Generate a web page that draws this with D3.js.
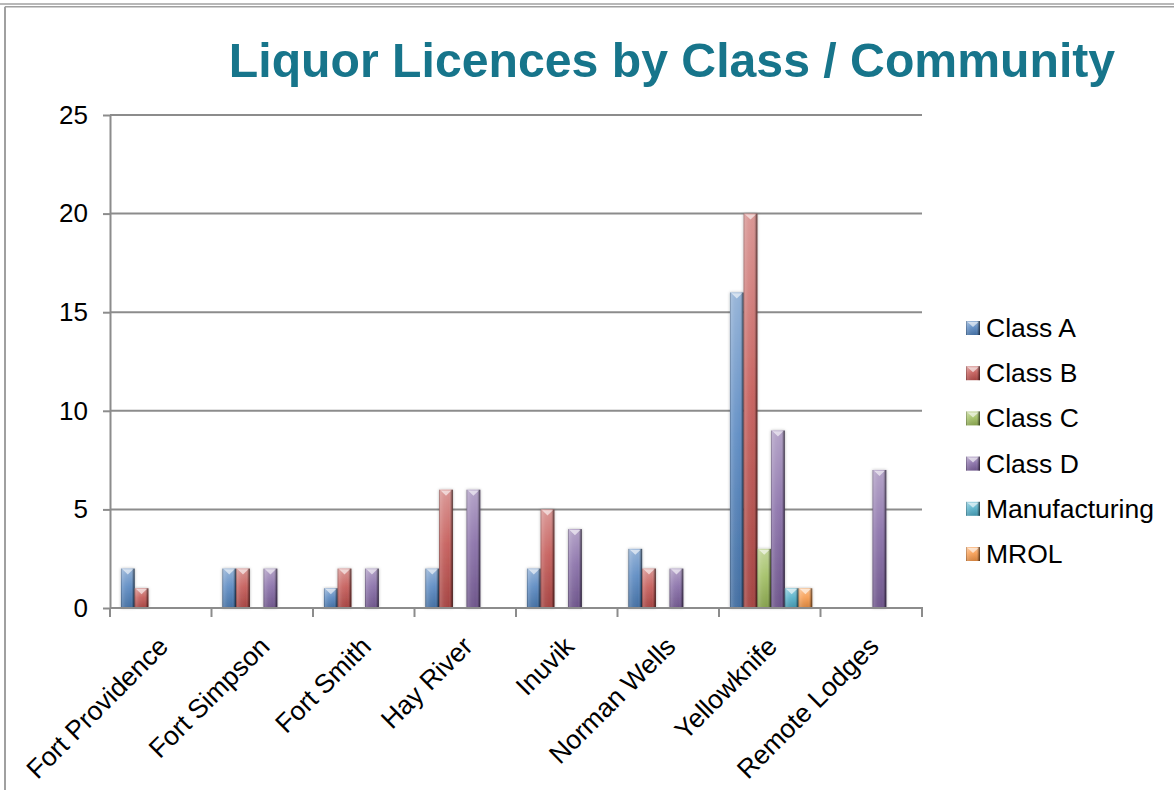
<!DOCTYPE html>
<html>
<head>
<meta charset="utf-8">
<script src="https://cdn.jsdelivr.net/npm/d3@7"></script>
<style>
  html, body { margin: 0; padding: 0; background: #ffffff; }
  svg { display: block; font-family: "Liberation Sans", Arial, sans-serif; }
</style>
</head>
<body>
<svg id="chart" width="1174" height="790"></svg>
<script>
// Licence counts per community, one array per licence class (null = no licences)
const categories = ["Fort Providence", "Fort Simpson", "Fort Smith", "Hay River",
                    "Inuvik", "Norman Wells", "Yellowknife", "Remote Lodges"];
const seriesNames = ["Class A", "Class B", "Class C", "Class D", "Manufacturing", "MROL"];
const classA        = [2, 2, 1, 2, 2, 3, 16, null];
const classB        = [1, 2, 2, 6, 5, 2, 20, null];
const classC        = [null, null, null, null, null, null, 3, null];
const classD        = [null, 2, 2, 6, 4, 2, 9, 7];
const manufacturing = [null, null, null, null, null, null, 1, null];
const mrol          = [null, null, null, null, null, null, 1, null];
const seriesColors  = ["#4F81BD", "#C0504D", "#9BBB59", "#8064A2", "#4BACC6", "#F79646"];
const yTicks        = [0, 5, 10, 15, 20, 25];
const title         = "Liquor Licences by Class / Community";

const seriesValues = [classA, classB, classC, classD, manufacturing, mrol];

const svg = d3.select("#chart");
const W = 1174, H = 790;
const plot = { left: 110, right: 922, top: 115, bottom: 608 };

// outer frame
const frame = svg.append("g").attr("stroke", "#a0a0a0").attr("fill", "none");
frame.append("line").attr("x1", 0).attr("x2", W).attr("y1", 4).attr("y2", 4).attr("stroke-width", 1.5);
frame.append("line").attr("x1", 5).attr("x2", W).attr("y1", 6.8).attr("y2", 6.8).attr("stroke-width", 1.5);
frame.append("line").attr("x1", 5).attr("x2", 5).attr("y1", 6.8).attr("y2", H).attr("stroke-width", 2);

// scales
const x0 = d3.scaleBand().domain(categories).range([plot.left, plot.right]).paddingInner(0).paddingOuter(0);
const x1 = d3.scaleBand().domain(seriesNames).range([0, x0.bandwidth()])
  .paddingInner(0).paddingOuter(0.7).align(0.57);
const y = d3.scaleLinear().domain([0, 25]).range([plot.bottom, plot.top]);

// gradients: vertical body shade per series, plus a shared horizontal bevel overlay
const defs = svg.append("defs");
seriesNames.forEach((name, i) => {
  const base = seriesColors[i];
  const g = defs.append("linearGradient").attr("id", "grad" + i)
    .attr("x1", 0).attr("y1", 0).attr("x2", 0).attr("y2", 1);
  g.append("stop").attr("offset", "0%").attr("stop-color", d3.interpolateRgb(base, "#ffffff")(0.4));
  g.append("stop").attr("offset", "45%").attr("stop-color", d3.interpolateRgb(base, "#ffffff")(0.12));
  g.append("stop").attr("offset", "100%").attr("stop-color", d3.rgb(base).darker(0.45).formatHex());
});
const bevel = defs.append("linearGradient").attr("id", "bevel")
  .attr("x1", 0).attr("y1", 0).attr("x2", 1).attr("y2", 0);
[[0, "#000", 0.35], [0.1, "#fff", 0.18], [0.35, "#fff", 0.06], [0.7, "#fff", 0],
 [0.86, "#000", 0.18], [1, "#000", 0.65]].forEach(([o, c, a]) =>
  bevel.append("stop").attr("offset", o).attr("stop-color", c).attr("stop-opacity", a));
const shadow = defs.append("filter").attr("id", "shadow")
  .attr("x", "-50%").attr("y", "-10%").attr("width", "200%").attr("height", "120%");
shadow.append("feDropShadow").attr("dx", 0).attr("dy", 0).attr("stdDeviation", 1.5)
  .attr("flood-color", "#000").attr("flood-opacity", 0.3);

// gridlines
svg.append("g")
  .selectAll("line").data(yTicks.filter(t => t > 0)).join("line")
  .attr("x1", plot.left).attr("x2", plot.right)
  .attr("y1", d => y(d)).attr("y2", d => y(d))
  .attr("stroke", "#8c8c8c").attr("stroke-width", 2);

// y axis
const yAxis = svg.append("g").attr("transform", `translate(${plot.left},0)`)
  .call(d3.axisLeft(y).tickValues(yTicks).tickSize(7).tickPadding(15).tickSizeOuter(0));
yAxis.select(".domain").attr("stroke", "#8c8c8c").attr("stroke-width", 2);
yAxis.selectAll(".tick line").attr("stroke", "#8c8c8c").attr("stroke-width", 2);
yAxis.selectAll(".tick text").attr("font-size", 26).attr("fill", "#000")
  .attr("font-family", "Liberation Sans, Arial, sans-serif");

// bars
const barGroups = svg.append("g").selectAll("g").data(categories).join("g")
  .attr("transform", d => `translate(${x0(d)},0)`);
const bars = barGroups.selectAll("g.bar")
  .data((c, ci) => seriesNames.map((s, si) => ({ s, si, v: seriesValues[si][ci] }))
    .filter(d => d.v != null && d.v > 0))
  .join("g").attr("class", "bar");
const bw = x1.bandwidth();
bars.append("rect")
  .attr("x", d => x1(d.s)).attr("y", d => y(d.v))
  .attr("width", bw).attr("height", d => y(0) - y(d.v))
  .attr("fill", d => `url(#grad${d.si})`)
  .attr("filter", "url(#shadow)");
bars.append("rect")
  .attr("x", d => x1(d.s)).attr("y", d => y(d.v))
  .attr("width", bw).attr("height", d => y(0) - y(d.v))
  .attr("fill", "url(#bevel)");
bars.append("path")
  .attr("d", d => {
    const xl = x1(d.s) + 1.5, xr = x1(d.s) + bw - 1.5, yt = y(d.v) + 0.8;
    return `M${xl},${yt}L${xr},${yt}L${(xl + xr) / 2},${yt + bw * 0.38}Z`;
  })
  .attr("fill", "#ffffff").attr("fill-opacity", 0.6);

// x axis
const xAxis = svg.append("g").attr("transform", `translate(0,${plot.bottom})`);
xAxis.append("line").attr("x1", plot.left).attr("x2", plot.right + 1)
  .attr("stroke", "#8c8c8c").attr("stroke-width", 2);
const boundaries = categories.map(c => x0(c)).concat([plot.right]);
xAxis.selectAll("line.tick").data(boundaries).join("line").attr("class", "tick")
  .attr("x1", d => d).attr("x2", d => d).attr("y1", 0).attr("y2", 9)
  .attr("stroke", "#8c8c8c").attr("stroke-width", 2);
xAxis.selectAll("text").data(categories).join("text")
  .attr("transform", d => `translate(${x0(d) + x0.bandwidth() / 2 + 9},${40}) rotate(-45)`)
  .attr("text-anchor", "end")
  .attr("font-size", 26.5).attr("fill", "#000")
  .text(d => d);

// title
svg.append("text")
  .attr("x", 672).attr("y", 77)
  .attr("text-anchor", "middle")
  .attr("font-size", 48.2).attr("font-weight", "bold")
  .attr("fill", "#17758B")
  .text(title);

// legend
const legend = svg.append("g").attr("transform", "translate(966,0)");
const items = legend.selectAll("g").data(seriesNames).join("g")
  .attr("transform", (d, i) => `translate(0,${321 + i * 45.2})`);
items.append("rect").attr("width", 14).attr("height", 14)
  .attr("fill", (d, i) => `url(#grad${i})`);
items.append("rect").attr("width", 14).attr("height", 14).attr("fill", "url(#bevel)");
items.append("path").attr("d", "M1.5,1L12.5,1L7,6Z").attr("fill", "#fff").attr("fill-opacity", 0.6);
items.append("text").attr("x", 20).attr("y", 16)
  .attr("font-size", 26.5).attr("fill", "#000")
  .text(d => d);
</script>
</body>
</html>
